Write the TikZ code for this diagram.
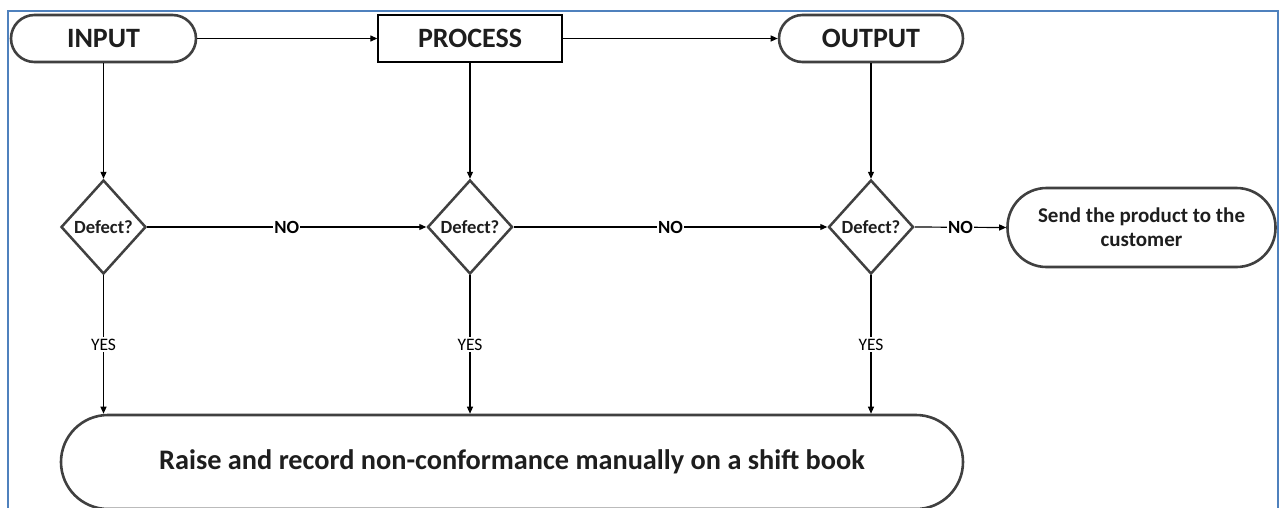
\documentclass[tikz,border=0pt]{standalone}
\usepackage{fontspec}
\setmainfont{Carlito}
\usetikzlibrary{arrows.meta,shapes.geometric}

\definecolor{framebl}{RGB}{79,129,189}
\definecolor{edgegray}{RGB}{64,64,64}
\definecolor{inkdark}{RGB}{30,30,30}

\tikzset{
  terminal/.style={draw=edgegray, line width=2.6pt, fill=white, text=inkdark,
    rectangle, rounded corners=#1, inner sep=0pt, align=center},
  procbox/.style={draw=black, line width=1.3pt, fill=white, text=inkdark,
    rectangle, inner sep=0pt, minimum width=184pt, minimum height=47pt,
    font=\fontsize{28}{32}\selectfont\bfseries},
  headtext/.style={font=\fontsize{28}{32}\selectfont\bfseries},
  decision/.style={draw=edgegray, line width=2.5pt, fill=white, text=inkdark,
    diamond, inner sep=0pt, minimum width=85pt, minimum height=94pt,
    font=\fontsize{18.6}{21}\selectfont\bfseries},
  flow/.style={draw=black, line width=1.2pt, -{Triangle[length=7pt,width=6pt]}},
  nolabel/.style={fill=white, inner sep=1pt, text=black,
    font=\fontsize{18.6}{21}\selectfont\bfseries},
  yeslabel/.style={fill=white, inner sep=2pt, text=black,
    font=\fontsize{17.5}{21}\selectfont},
}

\begin{document}
\begin{tikzpicture}[x=1pt, y=-1pt]
  \useasboundingbox (0,0) rectangle (1280,507);
  \fill[white] (0,0) rectangle (1280,507);

  % page frame, open at the bottom
  \draw[framebl, line width=2.4pt] (8,530) -- (8,11) -- (1278,11) -- (1278,530);

  % top row
  \node[terminal=23.5pt, minimum width=185pt, minimum height=47pt, headtext]
    (in) at (103.5,38.5) {INPUT};
  \node[procbox] (proc) at (470,38.5) {PROCESS};
  \node[terminal=23.5pt, minimum width=184pt, minimum height=47pt, headtext]
    (out) at (871,38.5) {OUTPUT};

  % decisions
  \node[decision] (d1) at (103.5,227) {Defect?};
  \node[decision] (d2) at (470,227) {Defect?};
  \node[decision] (d3) at (871,227) {Defect?};

  % delivery
  \node[terminal=39pt, minimum width=268pt, minimum height=79pt,
    font=\fontsize{21}{24}\selectfont\bfseries] (send) at (1141.5,227.5)
    {Send the product to the\\customer};

  % non-conformance record (runs off the lower edge)
  \node[terminal=47pt, minimum width=902pt, minimum height=94pt,
    font=\fontsize{28.3}{32}\selectfont\bfseries] (ncr) at (512,462)
    {Raise and record non-conformance manually on a shift book};

  % main flow
  \draw[flow] (in.east) -- (proc.west);
  \draw[flow] (proc.east) -- (out.west);
  \draw[flow] (in.south) -- (d1.north);
  \draw[flow] (proc.south) -- (d2.north);
  \draw[flow] (out.south) -- (d3.north);

  % NO branches
  \draw[flow] (d1.east) -- node[nolabel] {NO} (d2.west);
  \draw[flow] (d2.east) -- node[nolabel] {NO} (d3.west);
  \draw[flow] (d3.east) -- node[nolabel] {NO} (send.west);

  % YES branches
  \draw[flow] (d1.south) -- node[yeslabel] {YES} (d1.south |- ncr.north);
  \draw[flow] (d2.south) -- node[yeslabel] {YES} (d2.south |- ncr.north);
  \draw[flow] (d3.south) -- node[yeslabel] {YES} (d3.south |- ncr.north);
\end{tikzpicture}
\end{document}
